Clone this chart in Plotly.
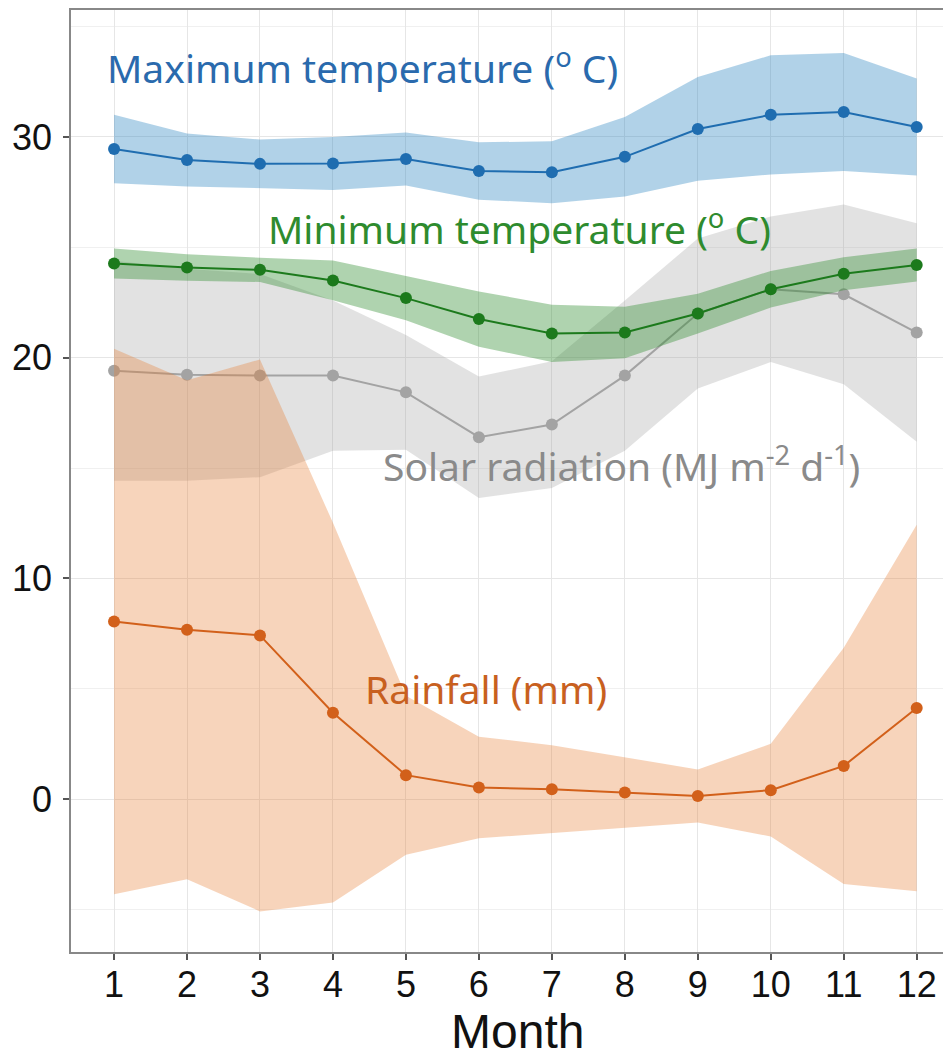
import plotly.graph_objects as go

months = list(range(1, 13))
tmax_mean = [29.45, 28.96, 28.78, 28.80, 29.00, 28.46, 28.40, 29.10, 30.36, 31.00, 31.13, 30.45]
tmax_sd = [1.55, 1.20, 1.10, 1.20, 1.20, 1.30, 1.40, 1.80, 2.35, 2.70, 2.67, 2.20]
tmin_mean = [24.27, 24.09, 23.98, 23.50, 22.70, 21.75, 21.10, 21.14, 22.00, 23.10, 23.80, 24.20]
tmin_sd = [0.68, 0.60, 0.55, 0.90, 1.00, 1.25, 1.30, 1.17, 0.90, 0.83, 0.75, 0.75]
solar_mean = [19.41, 19.23, 19.19, 19.19, 18.43, 16.40, 16.97, 19.19, 22.00, 23.10, 22.87, 21.14]
solar_sd = [4.98, 4.80, 4.60, 3.40, 2.60, 2.75, 2.87, 3.40, 3.40, 3.30, 4.07, 4.95]
rain_mean = [8.05, 7.68, 7.42, 3.92, 1.09, 0.53, 0.45, 0.30, 0.15, 0.41, 1.51, 4.13]
rain_sd = [12.35, 11.30, 12.50, 8.60, 3.60, 2.30, 2.00, 1.60, 1.20, 2.10, 5.35, 8.30]

y_ticks = [0, 10, 20, 30]
y_minor = [-5, 5, 15, 25, 35]

series = [
    ("Solar radiation (MJ m<sup>-2</sup> d<sup>-1</sup>)", solar_mean, solar_sd,
     "#a3a3a3", "rgba(150,150,150,0.28)", "#8a8a8a", 7.96, 15.2),
    ("Rainfall (mm)", rain_mean, rain_sd,
     "#d2601a", "rgba(232,125,50,0.33)", "#c8601f", 6.1, 5.0),
    ("Minimum temperature (<sup>o</sup> C)", tmin_mean, tmin_sd,
     "#1c7a1c", "rgba(46,139,46,0.38)", "#2e8b2e", 6.56, 25.9),
    ("Maximum temperature (<sup>o</sup> C)", tmax_mean, tmax_sd,
     "#1f6db0", "rgba(40,130,190,0.36)", "#2a6aad", 4.4, 33.2),
]

fig = go.Figure()
annotations = []
for label, mean, sd, lcol, fcol, tcol, lx, ly in series:
    upper = [m + s for m, s in zip(mean, sd)]
    lower = [m - s for m, s in zip(mean, sd)]
    fig.add_trace(go.Scatter(
        x=months + months[::-1], y=upper + lower[::-1],
        fill="toself", fillcolor=fcol, line=dict(width=0),
        mode="lines", hoverinfo="skip", showlegend=False))
    fig.add_trace(go.Scatter(
        x=months, y=mean, mode="lines+markers",
        line=dict(color=lcol, width=2),
        marker=dict(color=lcol, size=12),
        showlegend=False))
    annotations.append(dict(
        x=lx, y=ly, xref="x", yref="y", text=label, showarrow=False,
        font=dict(family="Noto Sans", size=39, color=tcol),
        xanchor="center", yanchor="middle"))

annotations.append(dict(
    x=0.507, y=-0.084, xref="paper", yref="paper", text="Month", showarrow=False,
    font=dict(family="Liberation Sans", size=48, color="#111111"),
    height=44, valign="middle",
    xanchor="center", yanchor="middle"))

fig.update_layout(
    width=943, height=1045,
    margin=dict(l=63, r=0, t=2, b=101, autoexpand=False),
    plot_bgcolor="white", paper_bgcolor="white",
    showlegend=False,
    annotations=annotations,
    font=dict(family="Liberation Sans", size=36, color="#111111"),
)
fig.update_xaxes(
    range=[0.41, 12.47], tickmode="array", tickvals=months, automargin=False,
    ticks="outside", ticklen=6, tickwidth=1.5, tickcolor="#555555",
    ticklabelstandoff=-6,
    showline=True, linecolor="#888888", linewidth=1.5, mirror=True,
    showgrid=True, gridcolor="#e6e6e6", gridwidth=1.3, zeroline=False,
    tickfont=dict(family="Liberation Sans", size=36, color="#111111"),
)
fig.update_yaxes(
    range=[-6.92, 35.75], tickmode="array", tickvals=y_ticks, automargin=False,
    ticks="outside", ticklen=6, tickwidth=1.5, tickcolor="#555555",
    ticklabelstandoff=4,
    showline=True, linecolor="#888888", linewidth=1.5, mirror=False,
    showgrid=True, gridcolor="#e6e6e6", gridwidth=1.3, zeroline=False,
    minor=dict(tickvals=y_minor, showgrid=True, gridcolor="#f0f0f0", gridwidth=1, ticks=""),
    tickfont=dict(family="Liberation Sans", size=36, color="#111111"),
)

fig.write_html("out.html")
